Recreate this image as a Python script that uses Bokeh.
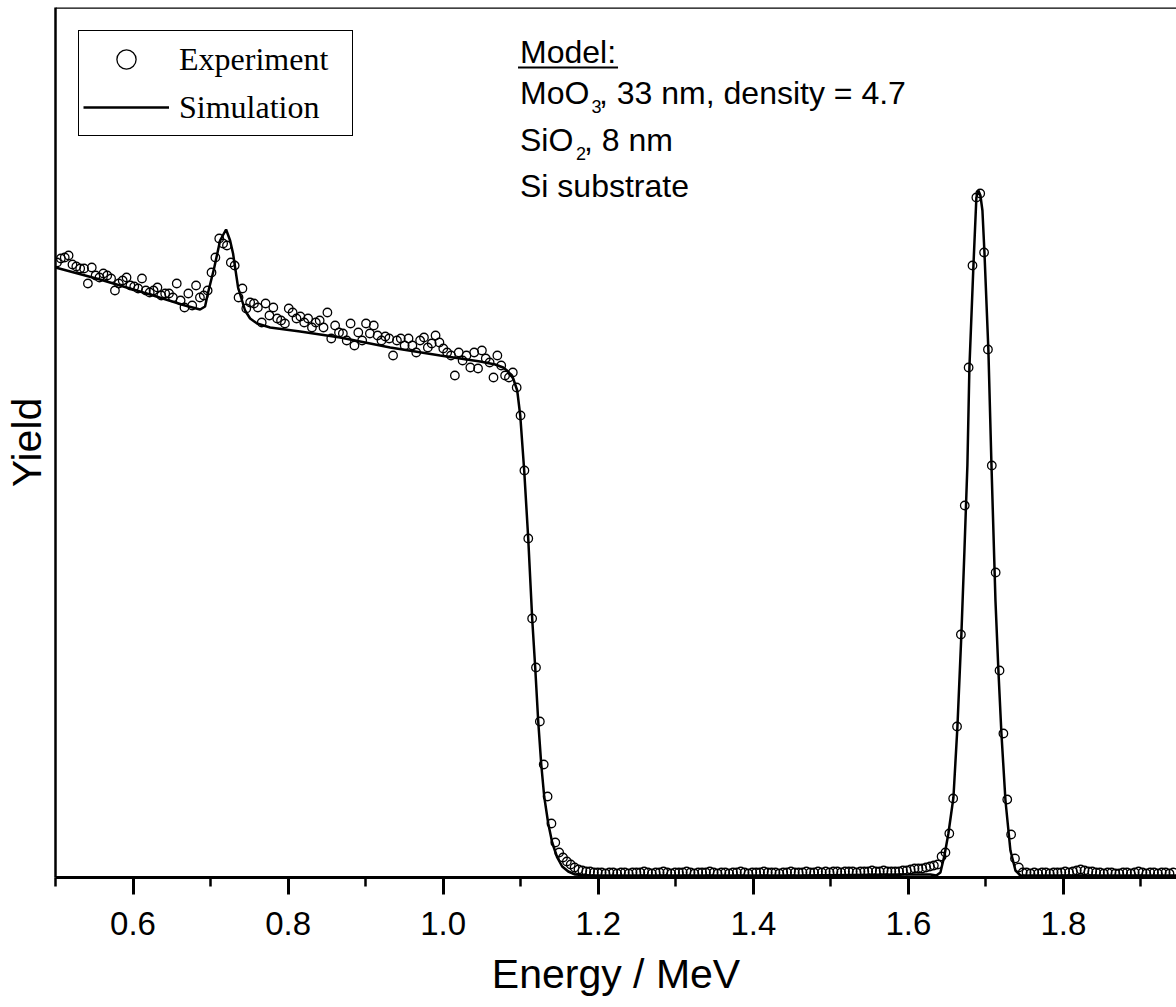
from bokeh.plotting import figure
from bokeh.models import Range1d, FixedTicker, Legend, LegendItem, Label, Span, BoxAnnotation
from bokeh.embed import file_html
from bokeh.resources import INLINE

# ---------------- data ----------------
# RBS spectrum: channel energy calibration (MeV)
E_START = 0.50194
E_STEP = 0.004982

# Experiment yield per channel (arb. units)
exp_yield = [
    615, 619, 620, 622, 613, 611, 609, 609, 594, 610,
    602, 600, 604, 602, 599, 587, 594, 597, 600, 592,
    591, 589, 599, 587, 585, 587, 590, 582, 584, 584,
    580, 594, 577, 570, 584, 572, 592, 580, 582, 587,
    605, 620, 639, 634, 632, 615, 612, 580, 589, 569,
    575, 574, 570, 555, 574, 562, 570, 559, 557, 554,
    569, 565, 559, 561, 555, 559, 550, 555, 557, 550,
    565, 539, 552, 545, 544, 537, 554, 532, 545, 537,
    554, 544, 552, 542, 537, 541, 539, 522, 537, 539,
    532, 539, 532, 525, 537, 540, 530, 534, 542, 535,
    529, 525, 522, 502, 525, 517, 522, 510, 525, 509,
    527, 519, 515, 500, 522, 512, 502, 500, 505, 490,
    462, 407, 339, 259, 210, 156, 113, 81, 54, 35,
    25, 20, 16, 13, 10, 8, 7, 6, 6, 5,
    5, 5, 4, 5, 5, 4, 5, 5, 4, 5,
    5, 5, 6, 5, 4, 5, 5, 6, 5, 4,
    5, 5, 5, 6, 5, 4, 5, 5, 5, 6,
    5, 4, 5, 5, 4, 5, 5, 6, 5, 4,
    5, 5, 5, 6, 5, 5, 5, 4, 5, 5,
    6, 5, 5, 5, 6, 5, 5, 6, 5, 6,
    5, 6, 6, 5, 6, 6, 6, 5, 6, 6,
    6, 7, 6, 6, 7, 6, 6, 6, 6, 7,
    7, 8, 9, 9, 9, 10, 11, 12, 13, 21,
    25, 44, 79, 151, 243, 372, 510, 612, 680, 684,
    625, 528, 412, 305, 207, 144, 78, 43, 19, 10,
    5, 5, 4, 5, 4, 5, 5, 4, 5, 5,
    5, 6, 5, 6, 7, 8, 7, 6, 6, 5,
    5, 4, 5, 5, 4, 4, 5, 5, 4, 5,
    6, 5, 4, 5, 5, 4, 5, 5, 4, 5,
]
exp_energy = [E_START + E_STEP * i for i in range(len(exp_yield))]

# Simulation curve (energy in MeV, yield arb. units)
sim_energy = [
    0.500, 0.5574, 0.6219, 0.6671, 0.6865, 0.6929, 0.6968, 0.7045, 0.7123, 0.7200,
    0.7252, 0.7290, 0.7355, 0.7445, 0.7510, 0.7600, 0.7768, 0.8155, 0.8671, 0.9316,
    0.9961, 1.0477, 1.0671, 1.0774, 1.0839, 1.0903, 1.0955, 1.0994, 1.1045, 1.1097,
    1.1148, 1.1187, 1.1226, 1.1265, 1.1303, 1.1355, 1.1406, 1.1471, 1.1535, 1.1613,
    1.1703, 1.1897, 1.4606, 1.5897, 1.6284, 1.6361, 1.6413, 1.6465, 1.6516, 1.6581,
    1.6632, 1.6684, 1.6723, 1.6761, 1.6787, 1.6839, 1.6877, 1.6903, 1.6929, 1.6955,
    1.6981, 1.7032, 1.7071, 1.7123, 1.7161, 1.7200, 1.7252, 1.7316, 1.7381, 1.7445,
    1.9500,
]
sim_yield = [
    610, 598, 583, 572, 568, 571, 585, 609, 637, 648,
    637, 624, 590, 567, 559, 554, 550, 546, 540, 530,
    522, 516, 513, 510, 506, 499, 487, 462, 407, 339,
    259, 210, 156, 113, 81, 54, 35, 20, 11, 6,
    3, 2, 2, 3, 3, 2, 5, 22, 44, 80,
    150, 244, 327, 412, 510, 612, 680, 687, 682, 667,
    625, 527, 414, 277, 207, 144, 77, 27, 7, 2,
    2,
]

x_ticks = [0.6, 0.8, 1.0, 1.2, 1.4, 1.6, 1.8]
x_tick_labels = ["0.6", "0.8", "1.0", "1.2", "1.4", "1.6", "1.8"]
x_minor_ticks = [0.5, 0.7, 0.9, 1.1, 1.3, 1.5, 1.7, 1.9]

X_MIN, X_MAX = 0.5, 1.9458
Y_MIN, Y_MAX = 0, 870

SANS = "Liberation Sans"
SERIF = "Liberation Serif"
LABEL_SHIFT = 10  # empirical baseline correction for Label text (px)


def sx(px):
    """page pixel x -> energy"""
    return X_MIN + (px - 55.5) / 775.3


def sy(py):
    """page pixel y -> yield"""
    return 877 - py


def ty(py):
    """page pixel baseline y -> label y"""
    return sy(py - LABEL_SHIFT)


# ---------------- figure ----------------
p = figure(width=1176, height=1007,
           x_range=Range1d(X_MIN, X_MAX), y_range=Range1d(Y_MIN, Y_MAX),
           output_backend="svg", toolbar_location=None,
           min_border_left=55, min_border_right=0, min_border_top=7, min_border_bottom=130)
p.outline_line_color = None
p.grid.visible = False
p.background_fill_color = "white"
p.border_fill_color = "white"

# x axis
xa = p.xaxis[0]
xa.ticker = FixedTicker(ticks=x_ticks, minor_ticks=x_minor_ticks)
xa.major_label_overrides = dict(zip(x_ticks, x_tick_labels))
xa.major_label_text_font = SANS
xa.major_label_text_font_size = "33px"
xa.major_label_text_color = "black"
xa.major_label_standoff = 17
xa.axis_label = "Energy / MeV"
xa.axis_label_text_font = SANS
xa.axis_label_text_font_size = "41px"
xa.axis_label_text_font_style = "normal"
xa.axis_label_text_color = "black"
xa.axis_label_standoff = 13
xa.axis_line_width = 3
xa.major_tick_line_width = 3
xa.minor_tick_line_width = 2.5
xa.major_tick_out = 17
xa.major_tick_in = 0
xa.minor_tick_out = 9
xa.minor_tick_in = 0
xa.axis_line_color = "black"
xa.major_tick_line_color = "black"
xa.minor_tick_line_color = "black"

# y axis (no ticks)
ya = p.yaxis[0]
ya.ticker = FixedTicker(ticks=[])
ya.axis_label = "Yield"
ya.axis_label_text_font = SANS
ya.axis_label_text_font_size = "41px"
ya.axis_label_text_font_style = "normal"
ya.axis_label_text_color = "black"
ya.axis_label_standoff = 6
ya.axis_line_width = 2.5
ya.major_tick_out = 0
ya.minor_tick_out = 0
ya.major_tick_in = 0
ya.minor_tick_in = 0
ya.axis_line_color = "black"

# top border
p.add_layout(Span(location=Y_MAX, dimension="width", line_color="black", line_width=2.5))

# data
ln = p.line(sim_energy, sim_yield, line_color="black", line_width=2.5)
sc = p.scatter(exp_energy, exp_yield, marker="circle", size=8.5,
               fill_color=None, line_color="black", line_width=1.3)

legend = Legend(items=[LegendItem(label="Experiment", renderers=[sc]),
                       LegendItem(label="Simulation", renderers=[ln])],
                location="top_left", margin=23, padding=4, spacing=0,
                glyph_width=86, glyph_height=48, label_height=48, label_width=169,
                label_standoff=10,
                label_text_font=SERIF, label_text_font_size="32px", label_text_color="black",
                border_line_color="black", border_line_width=1.5, border_line_alpha=1.0,
                background_fill_color="white", background_fill_alpha=1.0)
p.add_layout(legend)

# model annotation
FS = "32px"
SUB = "18px"


def lab(x, y, text, size=FS, align="left"):
    p.add_layout(Label(x=x, y=y, text=text, text_font=SANS, text_font_size=size,
                       text_baseline="alphabetic", text_align=align, text_color="black"))


lab(sx(520), ty(61), "Model:")
p.add_layout(BoxAnnotation(left=sx(518), right=sx(618), bottom=sy(68), top=sy(66),
                           fill_color="black", fill_alpha=1.0, line_color=None))
lab(sx(520), ty(102), "MoO")
lab(sx(591.5), ty(116), "3", SUB)
lab(sx(599), ty(102), ", 33 nm, density = 4.7")
lab(sx(520), ty(149), "SiO")
lab(sx(576), ty(163), "2", SUB)
lab(sx(584), ty(149), ", 8 nm")
lab(sx(520), ty(195), "Si substrate")

open("out.html", "w").write(file_html(p, INLINE))
